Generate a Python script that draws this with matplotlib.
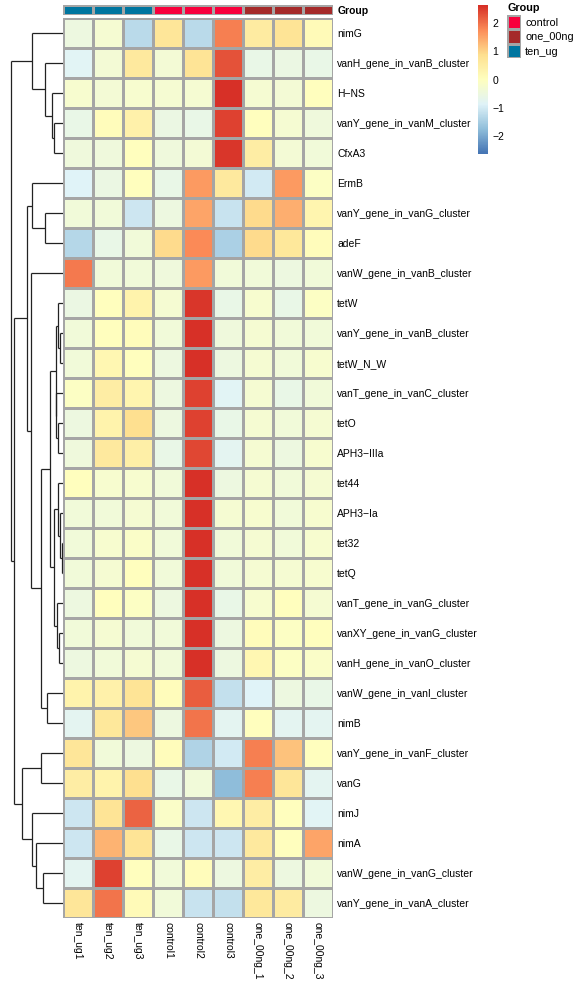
import numpy as np
import matplotlib
matplotlib.use("Agg")
import matplotlib.pyplot as plt
from matplotlib.colors import LinearSegmentedColormap, ListedColormap

plt.rcParams['font.family'] = ['Liberation Sans', 'DejaVu Sans']

samples = ['ten_ug1', 'ten_ug2', 'ten_ug3', 'control1', 'control2', 'control3',
           'one_00ng_1', 'one_00ng_2', 'one_00ng_3']
sample_group = ['ten_ug', 'ten_ug', 'ten_ug', 'control', 'control', 'control',
                'one_00ng', 'one_00ng', 'one_00ng']
group_names = ['control', 'one_00ng', 'ten_ug']
group_colors = ['#F8003C', '#A52A2A', '#0076A0']

genes = ['nimG', 'vanH_gene_in_vanB_cluster', 'H\u2212NS', 'vanY_gene_in_vanM_cluster', 'CfxA3',
         'ErmB', 'vanY_gene_in_vanG_cluster', 'adeF', 'vanW_gene_in_vanB_cluster', 'tetW',
         'vanY_gene_in_vanB_cluster', 'tetW_N_W', 'vanT_gene_in_vanC_cluster', 'tetO', 'APH3\u2212IIIa',
         'tet44', 'APH3\u2212Ia', 'tet32', 'tetQ', 'vanT_gene_in_vanG_cluster',
         'vanXY_gene_in_vanG_cluster', 'vanH_gene_in_vanO_cluster', 'vanW_gene_in_vanI_cluster', 'nimB',
         'vanY_gene_in_vanF_cluster', 'vanG', 'nimJ', 'nimA', 'vanW_gene_in_vanG_cluster',
         'vanY_gene_in_vanA_cluster']

# row z-scores
zvals = [
    [-0.5, -0.3, -1.3, 0.7, -1.3, 1.9, 0.55, 0.75, 0.15],
    [-0.8, -0.35, 0.6, -0.35, 0.75, 2.3, -0.6, -0.55, -0.6],
    [-0.25, -0.35, -0.25, -0.3, -0.3, 2.6, -0.3, -0.35, 0.0],
    [-0.6, 0.1, 0.4, -0.55, -0.6, 2.45, 0.05, -0.3, -0.45],
    [-0.45, -0.45, 0.05, -0.45, -0.35, 2.55, 0.5, -0.35, -0.4],
    [-0.85, -0.55, 0.05, -0.6, 1.6, 0.6, -1.05, 1.6, -0.1],
    [-0.4, -0.4, -1.1, -0.5, 1.5, -1.15, 0.95, 1.4, 0.3],
    [-1.35, -0.6, -0.4, 0.95, 1.8, -1.45, 0.95, 0.65, 0.1],
    [1.95, -0.4, -0.4, -0.45, 1.6, -0.4, -0.4, -0.5, -0.4],
    [-0.55, 0.05, 0.35, -0.3, 2.55, -0.6, -0.25, -0.6, -0.1],
    [-0.4, 0.0, 0.1, -0.4, 2.6, -0.45, -0.3, -0.4, -0.4],
    [-0.4, 0.25, 0.05, -0.5, 2.6, -0.5, -0.3, -0.4, -0.25],
    [-0.1, 0.5, 0.3, -0.5, 2.45, -0.8, -0.3, -0.6, -0.4],
    [-0.5, 0.35, 0.9, -0.5, 2.45, -0.6, -0.3, -0.4, -0.3],
    [-0.45, 0.6, 0.45, -0.6, 2.4, -0.75, -0.3, -0.5, -0.25],
    [0.05, -0.25, -0.25, -0.4, 2.6, -0.5, -0.3, -0.4, -0.3],
    [-0.4, -0.4, -0.3, -0.4, 2.65, -0.3, -0.25, -0.4, -0.25],
    [-0.4, -0.25, -0.15, -0.4, 2.6, -0.4, -0.3, -0.4, -0.25],
    [-0.4, -0.3, 0.0, -0.4, 2.6, -0.4, -0.3, -0.3, -0.25],
    [-0.5, 0.05, -0.1, -0.5, 2.6, -0.6, -0.25, 0.0, -0.3],
    [-0.4, -0.3, -0.4, -0.4, 2.65, -0.5, 0.1, -0.1, 0.05],
    [-0.5, -0.4, -0.3, -0.4, 2.6, -0.5, 0.25, -0.1, -0.15],
    [0.35, 0.4, 0.75, 0.1, 2.2, -1.2, -0.85, -0.5, -0.6],
    [-0.75, 0.65, 1.15, -0.5, 2.0, -0.75, 0.05, -0.75, -0.75],
    [0.7, -0.4, -0.5, 0.1, -1.4, -1.05, 1.9, 1.2, 0.05],
    [0.5, 0.35, 0.9, -0.6, -0.4, -1.75, 1.9, 0.7, -0.75],
    [-1.1, 0.75, 2.15, -0.15, -1.1, 0.25, 0.5, 0.05, -0.8],
    [-1.1, 1.35, 0.75, -0.6, -1.1, -1.1, 0.6, 0.05, 1.5],
    [-0.75, 2.45, 0.05, -0.4, 0.1, -0.5, 0.5, -0.5, -0.4],
    [0.7, 2.0, 0.15, -0.4, -1.15, -1.2, 0.65, 0.55, -0.5],
]

# row dendrogram: (left, right, height), leaves are row indices
row_tree = (
    (0, (1, (2, (3, 4, 8.7), 11.3), 18), 31.3),
    (
        ((5, (6, 7, 18), 30.7),
         (8,
          (
              (
                  ((9, (10, 11, 3), 5.3), (12, (13, 14, 5.3), 7), 7.3),
                  ((15, (16, (17, 18, 1.3), 3), 4.7), (19, (20, 21, 3.7), 6.3), 8.7),
                  13),
              (22, 23, 15.7),
              22),
          32.3),
         36.3),
        ((24, 25, 22), (26, (27, (28, 29, 20.3), 27), 30.7), 40.7),
        49),
    52)

legend_ticks = [2, 1, 0, -1, -2]

data = np.array(zvals)
vmax = np.abs(data).max()
cmap = LinearSegmentedColormap.from_list(
    'rdylbu', ['#4575B4', '#91BFDB', '#E0F3F8', '#FFFFBF', '#FEE090', '#FC8D59', '#D73027'], N=100)

W, H = 580, 984
fig = plt.figure(figsize=(W / 100, H / 100), dpi=100)


def box(x0, y0, x1, y1):
    return [x0 / W, 1 - y1 / H, (x1 - x0) / W, (y1 - y0) / H]


grid_col = '#A5A5A5'
grid_lw = 0.75
nrow, ncol = data.shape

# heatmap
ax = fig.add_axes(box(63, 18, 333, 918))
ax.pcolormesh(np.arange(ncol + 1), np.arange(nrow + 1), data, cmap=cmap,
              vmin=-vmax, vmax=vmax, edgecolors=grid_col, linewidth=grid_lw)
ax.set_xlim(0, ncol)
ax.set_ylim(nrow, 0)
for s in ax.spines.values():
    s.set_visible(False)
ax.yaxis.tick_right()
ax.set_yticks(np.arange(nrow) + 0.5)
ax.set_yticklabels(genes, fontsize=7.5)
ax.set_xticks(np.arange(ncol) + 0.5)
ax.set_xticklabels(samples, rotation=270, fontsize=7.5)
ax.tick_params(length=0, pad=3)

# column annotation
axa = fig.add_axes(box(63, 5, 333, 15))
gidx = [group_names.index(g) for g in sample_group]
axa.pcolormesh(np.arange(ncol + 1), [0, 1], [gidx], cmap=ListedColormap(group_colors),
               vmin=-0.5, vmax=2.5, edgecolors=grid_col, linewidth=grid_lw)
axa.set_xlim(0, ncol)
axa.set_ylim(1, 0)
axa.set_xticks([])
axa.yaxis.tick_right()
axa.set_yticks([0.5])
axa.set_yticklabels(['Group'], fontsize=7.5, fontweight='bold')
axa.tick_params(length=0, pad=3)
for s in axa.spines.values():
    s.set_visible(False)

# row dendrogram
axd = fig.add_axes(box(0, 18, 63, 918))
line_kw = dict(color='#222222', lw=0.9, solid_capstyle='butt')


def draw(node):
    if isinstance(node, int):
        return node + 0.5, 0.0
    left, right, h = node
    yl, hl = draw(left)
    yr, hr = draw(right)
    axd.plot([h, h], [yl, yr], **line_kw)
    axd.plot([hl, h], [yl, yl], **line_kw)
    axd.plot([hr, h], [yr, yr], **line_kw)
    return (yl + yr) / 2, h


draw(row_tree)
axd.set_xlim(63, 0)
axd.set_ylim(nrow, 0)
axd.axis('off')

# colour legend
axc = fig.add_axes(box(478, 5, 488, 154))
grad = np.linspace(-vmax, vmax, 100).reshape(-1, 1)
axc.imshow(grad, cmap=cmap, vmin=-vmax, vmax=vmax, aspect='auto', origin='lower',
           extent=[0, 1, -vmax, vmax])
axc.set_xticks([])
axc.yaxis.tick_right()
axc.set_yticks(legend_ticks)
axc.set_yticklabels([str(t).replace('-', '\u2212') for t in legend_ticks], fontsize=7.5)
axc.tick_params(length=0, pad=3)
for s in axc.spines.values():
    s.set_visible(False)

# group legend
axg = fig.add_axes(box(507, 15, 521, 58))
axg.pcolormesh([0, 1], np.arange(len(group_names) + 1), np.arange(len(group_names)).reshape(-1, 1),
               cmap=ListedColormap(group_colors), vmin=-0.5, vmax=2.5,
               edgecolors=grid_col, linewidth=grid_lw)
axg.set_xlim(0, 1)
axg.set_ylim(len(group_names), 0)
axg.set_xticks([])
axg.yaxis.tick_right()
axg.set_yticks(np.arange(len(group_names)) + 0.5)
axg.set_yticklabels(group_names, fontsize=7.8)
axg.tick_params(length=0, pad=3)
for s in axg.spines.values():
    s.set_visible(False)
axg.text(0, -0.12, 'Group', transform=axg.transData, fontsize=7.8, fontweight='bold',
         ha='left', va='bottom')

fig.savefig('out.png', dpi=100)
